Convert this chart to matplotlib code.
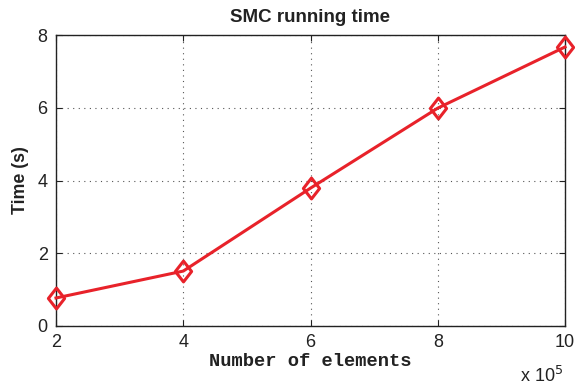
import matplotlib
matplotlib.use("Agg")
import matplotlib.pyplot as plt
from matplotlib.path import Path

# Data: number of elements (x 1e5) and SMC running time in seconds
n_elements = [2, 4, 6, 8, 10]
run_time = [0.77, 1.51, 3.79, 5.99, 7.67]
x_ticks = [2, 4, 6, 8, 10]
y_ticks = [0, 2, 4, 6, 8]

red = "#e8222a"
diamond = Path([(0, 1), (0.78, 0), (0, -1), (-0.78, 0), (0, 1)],
               [Path.MOVETO, Path.LINETO, Path.LINETO, Path.LINETO, Path.CLOSEPOLY])

fig = plt.figure(figsize=(5.75, 3.88), dpi=100)
ax = fig.add_axes([56 / 575, 1 - 326 / 388, 509 / 575, 291 / 388])

ax.plot(n_elements, run_time, color=red, linewidth=2.2,
        marker=diamond, markersize=15, markerfacecolor="none",
        markeredgecolor=red, markeredgewidth=2.2, clip_on=False, zorder=3)

ax.set_xlim(2, 10)
ax.set_ylim(0, 8)
ax.set_xticks(x_ticks)
ax.set_yticks(y_ticks)
ax.tick_params(direction="in", length=4, width=0.8, labelsize=13,
               top=True, right=True, pad=6, colors="#222222")
ax.grid(True, linestyle=(0, (1, 4)), color="#555555", linewidth=0.8)
for s in ax.spines.values():
    s.set_linewidth(1.0)
    s.set_color("#222222")

ax.set_title("SMC running time", fontsize=13.5, fontweight="bold",
             family="Liberation Sans", pad=9, color="#222222")
ax.set_ylabel("Time (s)", fontsize=12.8, fontweight="bold",
              family="Liberation Sans", labelpad=6, color="#222222")
ax.set_xlabel("Number of elements", fontsize=13.5, fontweight="bold",
              family="Liberation Mono", labelpad=1, color="#222222")
for lbl in ax.get_xticklabels() + ax.get_yticklabels():
    lbl.set_family("Liberation Sans")

fig.text(520 / 575, 1 - 376 / 388, r"x 10$^5$", fontsize=13,
         family="Liberation Sans", color="#222222", va="center", ha="left")

fig.savefig("out.png", dpi=100)
